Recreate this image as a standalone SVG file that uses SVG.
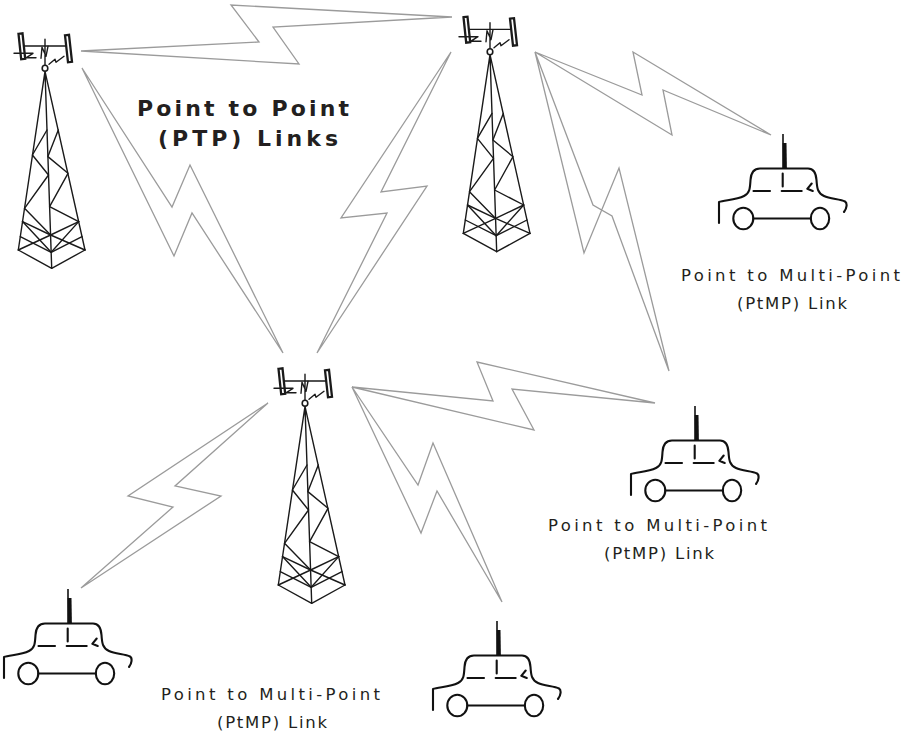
<svg xmlns="http://www.w3.org/2000/svg" xmlns:xlink="http://www.w3.org/1999/xlink" width="910" height="737" viewBox="0 0 910 737">
  <style>
    .bolt { fill: none; stroke: #9b9b9b; stroke-width: 1.3; stroke-linejoin: miter; }
    .tw { fill: none; stroke: #1a1a1a; stroke-width: 1.4; stroke-linecap: round; stroke-linejoin: round; }
    .panel { fill: #fff; stroke: #1a1a1a; stroke-width: 2.3; }
    .car { fill: none; stroke: #111; stroke-width: 2.1; stroke-linecap: round; stroke-linejoin: round; }
    .title { font-family: "DejaVu Sans", Verdana, sans-serif; font-weight: bold; font-size: 22px; fill: #231f20; }
    .label { font-family: "DejaVu Sans", Verdana, sans-serif; font-size: 16.5px; fill: #231f20; }
  </style>
  <defs>
    <!-- lattice tower, origin at the small ring below the antenna mast -->
    <g id="tower">
      <polygon class="panel" points="-26.5,-34.5 -22.5,-35 -19.8,-9.5 -23.8,-9"/>
      <polygon class="panel" points="20,-33 24,-33.5 27,-6.5 23,-6"/>
      <path class="tw" d="M-21,-22.3 H21"/>
      <path class="tw" d="M-31,-15 H-12 L-19,-10.5 H-9"/>
      <path class="tw" d="M0,-29 V-3 M-4,-10 L-3,-21 L1,-12 L3,-22"/>
      <path class="tw" d="M4,-4 L10,-9 L11,-6 L19,-12"/>
      <ellipse cx="0" cy="0" rx="2.8" ry="3" fill="#fff" stroke="#1a1a1a" stroke-width="1.6"/>
      <!-- legs -->
      <path class="tw" d="M0,3 L-26.7,181.7 M0,3 L6.7,200 M0,3 L40,181.7"/>
      <!-- face bracing -->
      <path class="tw" d="M2,61.7 L-12.6,86.7 L3.5,106.7 L-20.5,140 L5.6,166.7"/>
      <path class="tw" d="M13.3,61.7 L2.9,88.3 L23,105 L4.6,138.3 L33.7,153.3"/>
      <!-- base bracing -->
      <path class="tw" d="M-22.5,153.3 L5.6,166.7 L33.7,153.3"/>
      <path class="tw" d="M-22.5,153.3 L6.2,184 M-26.7,181.7 L5.6,166.7"/>
      <path class="tw" d="M33.7,153.3 L6.2,184 M40,181.7 L5.6,166.7"/>
      <path class="tw" d="M-24.7,168.3 L6.2,184 L37,168.3"/>
      <path class="tw" d="M-26.7,181.7 L6.7,200 L40,181.7"/>
    </g>
    <!-- car with roof antenna -->
    <g id="car">
      <path class="car" d="M19,93 V72 C24,70 36,70 44,66 C50,63 50,58 50.5,50 C51,42 54,38.5 60,38.5 H108 C114,38.5 116,43 116.5,50 C117,58 117.5,63 124,66 C130,69 140,69 145,71.5 C147.5,73 147,78 144,82"/>
      <path class="car" d="M53.5,61 H70 M81.7,61 H101.7 M82.7,43.5 V56.5 M111.7,53.5 L107.3,58.8 L112.7,61"/>
      <ellipse class="car" cx="43.3" cy="88.5" rx="10" ry="10.8"/>
      <ellipse class="car" cx="120" cy="88.5" rx="9.2" ry="10.8"/>
      <path class="car" d="M53.3,88.5 H110.8"/>
      <path d="M83,4 V39" stroke="#111" stroke-width="1.6" fill="none"/>
      <path d="M84.6,13 L85,39" stroke="#111" stroke-width="3.8" fill="none"/>
    </g>
  </defs>

  <!-- radio links -->
  <g id="links">
    <polygon class="bolt" points="81,51 259,42 231,5 452,17 273,27 299,64"/>
    <polygon class="bolt" points="82,68 172,207 190,165 283,353 192,213 174,256"/>
    <polygon class="bolt" points="451,52 341,218 387,213 317,353 427,186 381,192"/>
    <polygon class="bolt" points="535,52 642,95 633,52 771,135 663,90 672,135"/>
    <polygon class="bolt" points="535,52 584,253 619,168 669,371 612,216 593,205"/>
    <polygon class="bolt" points="352,387 493,401 477,362 655,403 512,389 534,430"/>
    <polygon class="bolt" points="268,403 128,496 173,507 81,588 221,496 175,486"/>
    <polygon class="bolt" points="352,387 418,485 433,443 502,602 437,491 421,533"/>
  </g>

  <g id="tower-1"><use xlink:href="#tower" href="#tower" transform="translate(45,68.3)"/></g>
  <g id="tower-2"><use xlink:href="#tower" href="#tower" transform="translate(490,51.7)"/></g>
  <g id="tower-3"><use xlink:href="#tower" href="#tower" transform="translate(305,403.3)"/></g>

  <g id="car-1"><use xlink:href="#car" href="#car" transform="translate(700,130)"/></g>
  <g id="car-2"><use xlink:href="#car" href="#car" transform="translate(612,402)"/></g>
  <g id="car-3"><use xlink:href="#car" href="#car" transform="translate(-15,585)"/></g>
  <g id="car-4"><use xlink:href="#car" href="#car" transform="translate(414,617)"/></g>

  <g id="ptp-label">
    <text class="title" x="137" y="116" textLength="212" lengthAdjust="spacing">Point to Point</text>
    <text class="title" x="158" y="146" textLength="180" lengthAdjust="spacing">(PTP) Links</text>
  </g>
  <g id="ptmp-label-1">
    <text class="label" x="681" y="281" textLength="219" lengthAdjust="spacing">Point to Multi-Point</text>
    <text class="label" x="737" y="309" textLength="110" lengthAdjust="spacing">(PtMP) Link</text>
  </g>
  <g id="ptmp-label-2">
    <text class="label" x="548" y="531" textLength="219" lengthAdjust="spacing">Point to Multi-Point</text>
    <text class="label" x="604" y="559" textLength="110" lengthAdjust="spacing">(PtMP) Link</text>
  </g>
  <g id="ptmp-label-3">
    <text class="label" x="161" y="700" textLength="219" lengthAdjust="spacing">Point to Multi-Point</text>
    <text class="label" x="217" y="728" textLength="110" lengthAdjust="spacing">(PtMP) Link</text>
  </g>
</svg>
